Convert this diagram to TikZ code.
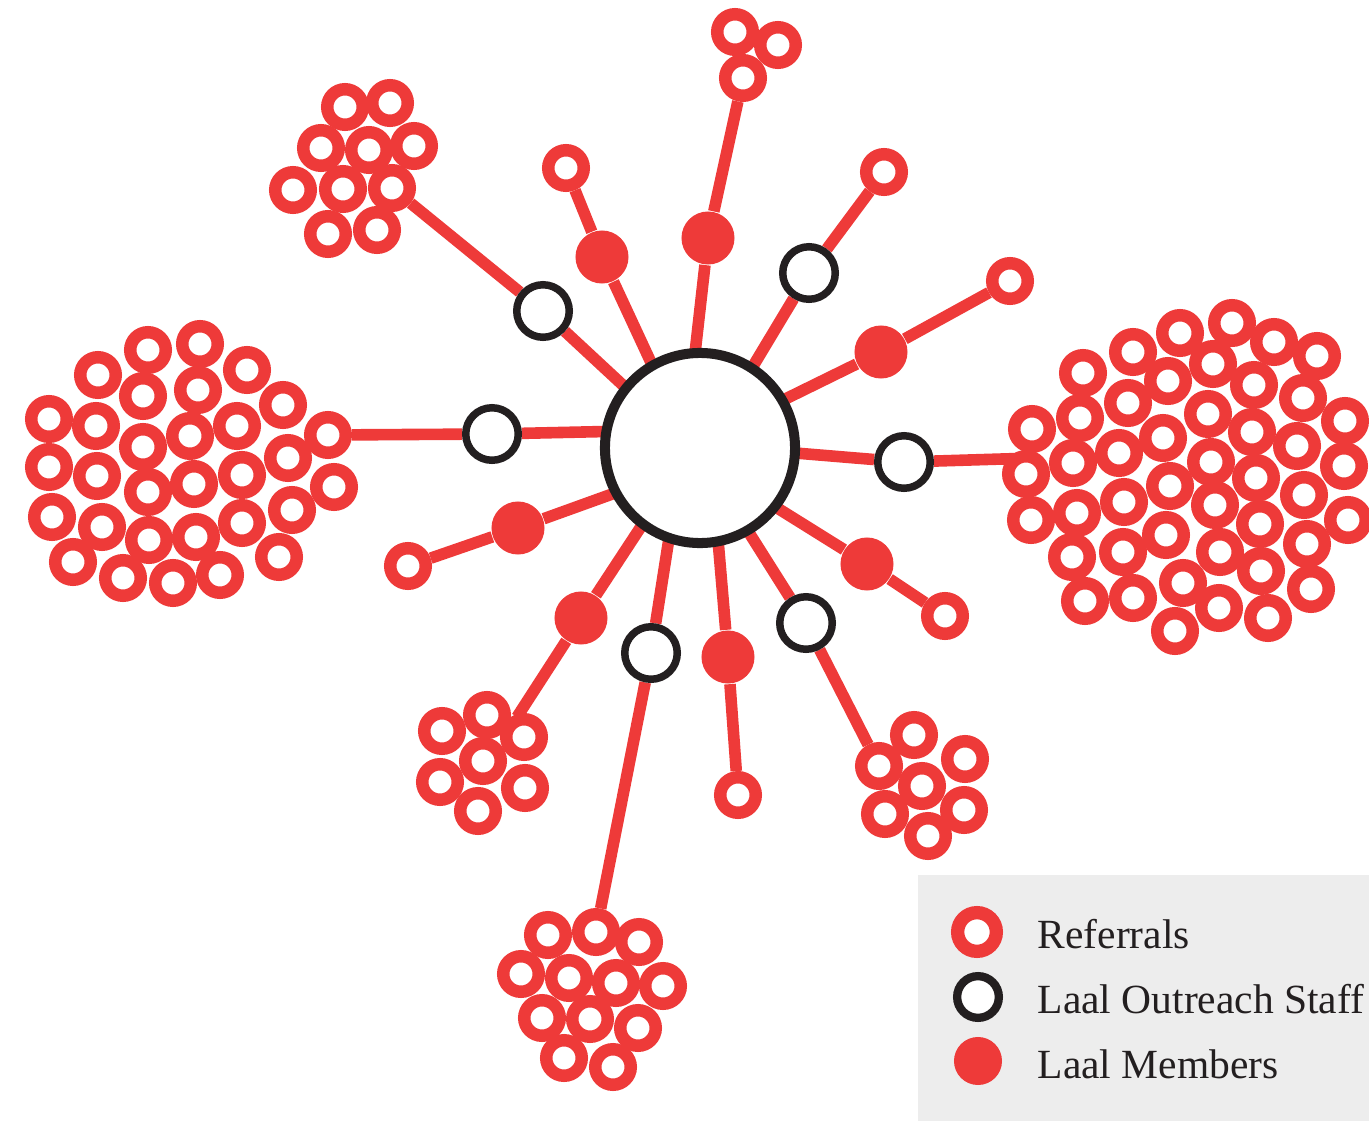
\documentclass[tikz,border=0pt]{standalone}
\usepackage{fontspec}
\setmainfont{Liberation Serif}
\definecolor{lred}{RGB}{238,58,57}
\definecolor{dark}{RGB}{35,31,32}
\definecolor{legendgray}{RGB}{237,237,237}
\pgfdeclarelayer{bg}
\pgfsetlayers{bg,main}
\tikzset{
  referral/.style={circle, draw=lred, fill=white, line width=3.55pt, minimum size=0.355cm, inner sep=0pt},
  staff/.style={circle, draw=dark, fill=white, line width=2.13pt, minimum size=0.525cm, inner sep=0pt},
  member/.style={circle, fill=lred, minimum size=0.53cm, inner sep=0pt},
  hub/.style={circle, draw=dark, fill=white, line width=2.85pt, minimum size=1.9cm, inner sep=0pt, outer sep=0pt},
  spoke/.style={draw=lred, line width=3.3pt},
  key/.style={anchor=base west, inner sep=0pt, text=dark, font=\fontsize{11.8}{14}\selectfont}
}
\begin{document}
\begin{tikzpicture}[x=0.01cm, y=-0.01cm]
      \useasboundingbox (0,0) rectangle (1369,1121);
      \fill[legendgray] (918,875) rectangle (1369,1121);
      \draw
        (148,350) node[referral] (l1){} (200,344) node[referral] (l2){}
        (98,375) node[referral] (l3){} (247,370) node[referral] (l4){}
        (143,396) node[referral] (l5){} (198,390) node[referral] (l6){}
        (283,405) node[referral] (l7){} (49,419) node[referral] (l8){}
        (96,426) node[referral] (l9){} (143,447) node[referral] (l10){}
        (190,436) node[referral] (l11){} (237,426) node[referral] (l12){}
        (328,435) node[referral] (l13){} (49,467) node[referral] (l14){}
        (97,476) node[referral] (l15){} (148,492) node[referral] (l16){}
        (194,484) node[referral] (l17){} (242,475) node[referral] (l18){}
        (288,458) node[referral] (l19){} (334,487) node[referral] (l20){}
        (52,517) node[referral] (l21){} (102,527) node[referral] (l22){}
        (149,540) node[referral] (l23){} (196,537) node[referral] (l24){}
        (242,523) node[referral] (l25){} (292,510) node[referral] (l26){}
        (73,562) node[referral] (l27){} (123,578) node[referral] (l28){}
        (173,583) node[referral] (l29){} (220,575) node[referral] (l30){}
        (279,557) node[referral] (l31){};
      \draw
        (1180,333) node[referral] (r1){} (1232,323) node[referral] (r2){}
        (1274,342) node[referral] (r3){} (1317,356) node[referral] (r4){}
        (1133,352) node[referral] (r5){} (1083,373) node[referral] (r6){}
        (1168,381) node[referral] (r7){} (1213,364) node[referral] (r8){}
        (1254,385) node[referral] (r9){} (1303,398) node[referral] (r10){}
        (1128,403) node[referral] (r11){} (1080,418) node[referral] (r12){}
        (1032,429) node[referral] (r13){} (1208,414) node[referral] (r14){}
        (1252,432) node[referral] (r15){} (1345,421) node[referral] (r16){}
        (1163,438) node[referral] (r17){} (1119,453) node[referral] (r18){}
        (1073,463) node[referral] (r19){} (1026,474) node[referral] (r20){}
        (1211,462) node[referral] (r21){} (1297,446) node[referral] (r22){}
        (1344,466) node[referral] (r23){} (1170,486) node[referral] (r24){}
        (1124,502) node[referral] (r25){} (1077,513) node[referral] (r26){}
        (1031,520) node[referral] (r27){} (1215,505) node[referral] (r28){}
        (1256,478) node[referral] (r29){} (1304,495) node[referral] (r30){}
        (1348,520) node[referral] (r31){} (1166,535) node[referral] (r32){}
        (1123,552) node[referral] (r33){} (1072,557) node[referral] (r34){}
        (1220,552) node[referral] (r35){} (1260,524) node[referral] (r36){}
        (1307,544) node[referral] (r37){} (1183,583) node[referral] (r38){}
        (1133,598) node[referral] (r39){} (1085,601) node[referral] (r40){}
        (1261,571) node[referral] (r41){} (1311,589) node[referral] (r42){}
        (1175,631) node[referral] (r43){} (1219,608) node[referral] (r44){}
        (1268,618) node[referral] (r45){};
      \draw
        (345,107) node[referral] (tl1){} (390,103) node[referral] (tl2){}
        (321,148) node[referral] (tl3){} (369,150) node[referral] (tl4){}
        (414,146) node[referral] (tl5){} (293,190) node[referral] (tl6){}
        (343,189) node[referral] (tl7){} (392,188) node[referral] (tl8){}
        (328,234) node[referral] (tl9){} (377,230) node[referral] (tl10){};
      \draw
        (735,32) node[referral] (tp1){} (778,45) node[referral] (tp2){}
        (743,78) node[referral] (tp3){};
      \draw
        (487,715) node[referral] (bl1){} (442,731) node[referral] (bl2){}
        (524,737) node[referral] (bl3){} (483,761) node[referral] (bl4){}
        (440,782) node[referral] (bl5){} (525,788) node[referral] (bl6){}
        (478,811) node[referral] (bl7){};
      \draw
        (914,735) node[referral] (br1){} (879,766) node[referral] (br2){}
        (965,759) node[referral] (br3){} (922,786) node[referral] (br4){}
        (885,814) node[referral] (br5){} (964,810) node[referral] (br6){}
        (928,836) node[referral] (br7){};
      \draw
        (548,935) node[referral] (bt1){} (596,932) node[referral] (bt2){}
        (639,942) node[referral] (bt3){} (521,974) node[referral] (bt4){}
        (569,978) node[referral] (bt5){} (616,983) node[referral] (bt6){}
        (663,986) node[referral] (bt7){} (542,1018) node[referral] (bt8){}
        (590,1019) node[referral] (bt9){} (638,1028) node[referral] (bt10){}
        (564,1058) node[referral] (bt11){} (613,1067) node[referral] (bt12){};
      \draw
        (566,168) node[referral] (e1){}
        (884,172) node[referral] (e2){}
        (1010,281) node[referral] (e3){}
        (945,616) node[referral] (e4){}
        (738,795) node[referral] (e5){}
        (408,566) node[referral] (e6){};
      \draw
        (602,257) node[member] (m1){}
        (708,238) node[member] (m2){}
        (881,352) node[member] (m3){}
        (867,564) node[member] (m4){}
        (728,657) node[member] (m5){}
        (581,618) node[member] (m6){}
        (518,528) node[member] (m7){};
      \draw
        (543,311) node[staff] (o1){}
        (809,273) node[staff] (o2){}
        (904,462) node[staff] (o3){}
        (806,623) node[staff] (o4){}
        (651,653) node[staff] (o5){}
        (492,434) node[staff] (o6){};
      \draw (700,448) node[hub] (hub){};
      \coordinate (rend) at (1035,458);
      \coordinate (blend) at (517,717);
      \begin{pgfonlayer}{bg}
      \begin{scope}[spoke]
        \draw (hub.141.8) to (o1);
        \draw (o1) to (tl8);
        \draw (hub.120.2) to (m1);
        \draw (m1) to (e1);
        \draw (hub.93.7) to (m2);
        \draw (m2) to (tp3);
        \draw (hub.57.5) to (o2);
        \draw (o2) to (e2);
        \draw (hub.30.1) to (m3);
        \draw (m3) to (e3);
        \draw (hub.-3.7) to (o3);
        \draw (o3) to (rend);
        \draw (hub.-38) to (m4);
        \draw (m4) to (e4);
        \draw (hub.-60.4) to (o4);
        \draw (o4) to (br2);
        \draw (hub.-79.1) to (m5);
        \draw (m5) to (e5);
        \draw (hub.-109.1) to (o5);
        \draw (o5) to (bt2);
        \draw (hub.-127.4) to (m6);
        \draw (m6) to (blend);
        \draw (hub.-152.8) to (m7);
        \draw (m7) to (e6);
        \draw (hub.170.4) to (o6);
        \draw (o6) to (l13);
      \end{scope}
      \end{pgfonlayer}
      \draw
        (977,932) node[referral, minimum size=0.387cm, line width=3.78pt] (k1){}
        (978,997) node[staff, minimum size=0.417cm, line width=2.36pt] (k2){}
        (978,1061) node[member, minimum size=0.48cm] (k3){};
      \node[key] (t1) at (1037,948) {Referrals};
      \node[key] (t2) at (1037,1013) {Laal Outreach Staff};
      \node[key] (t3) at (1037,1078) {Laal Members};
    \end{tikzpicture}
\end{document}
